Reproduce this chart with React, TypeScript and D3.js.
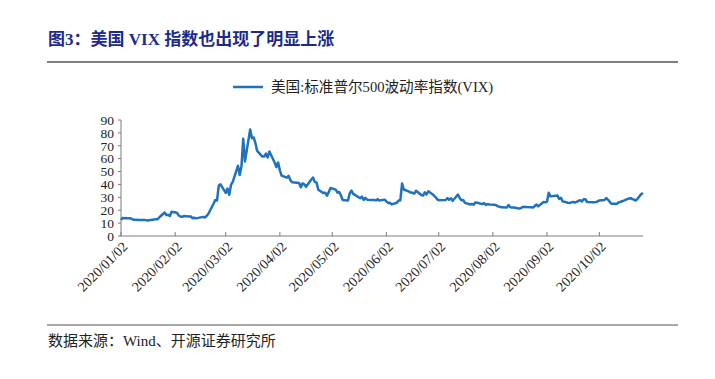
import React from "react";
import * as d3 from "d3";

const dates: string[] = [
  "2020-01-02","2020-01-03","2020-01-06","2020-01-07","2020-01-08","2020-01-09","2020-01-10","2020-01-13","2020-01-14","2020-01-15","2020-01-16","2020-01-17","2020-01-21","2020-01-22","2020-01-23","2020-01-24","2020-01-27","2020-01-28","2020-01-29","2020-01-30","2020-01-31",
  "2020-02-03","2020-02-04","2020-02-05","2020-02-06","2020-02-07","2020-02-10","2020-02-11","2020-02-12","2020-02-13","2020-02-14","2020-02-18","2020-02-19","2020-02-20","2020-02-21","2020-02-24","2020-02-25","2020-02-26","2020-02-27","2020-02-28",
  "2020-03-02","2020-03-03","2020-03-04","2020-03-05","2020-03-06","2020-03-09","2020-03-10","2020-03-11","2020-03-12","2020-03-13","2020-03-16","2020-03-17","2020-03-18","2020-03-19","2020-03-20","2020-03-23","2020-03-24","2020-03-25","2020-03-26","2020-03-27","2020-03-30","2020-03-31",
  "2020-04-01","2020-04-02","2020-04-03","2020-04-06","2020-04-07","2020-04-08","2020-04-09","2020-04-13","2020-04-14","2020-04-15","2020-04-16","2020-04-17","2020-04-20","2020-04-21","2020-04-22","2020-04-23","2020-04-24","2020-04-27","2020-04-28","2020-04-29","2020-04-30",
  "2020-05-01","2020-05-04","2020-05-05","2020-05-06","2020-05-07","2020-05-08","2020-05-11","2020-05-12","2020-05-13","2020-05-14","2020-05-15","2020-05-18","2020-05-19","2020-05-20","2020-05-21","2020-05-22","2020-05-26","2020-05-27","2020-05-28","2020-05-29",
  "2020-06-01","2020-06-02","2020-06-03","2020-06-04","2020-06-05","2020-06-08","2020-06-09","2020-06-10","2020-06-11","2020-06-12","2020-06-15","2020-06-16","2020-06-17","2020-06-18","2020-06-19","2020-06-22","2020-06-23","2020-06-24","2020-06-25","2020-06-26","2020-06-29","2020-06-30",
  "2020-07-01","2020-07-02","2020-07-06","2020-07-07","2020-07-08","2020-07-09","2020-07-10","2020-07-13","2020-07-14","2020-07-15","2020-07-16","2020-07-17","2020-07-20","2020-07-21","2020-07-22","2020-07-23","2020-07-24","2020-07-27","2020-07-28","2020-07-29","2020-07-30","2020-07-31",
  "2020-08-03","2020-08-04","2020-08-05","2020-08-06","2020-08-07","2020-08-10","2020-08-11","2020-08-12","2020-08-13","2020-08-14","2020-08-17","2020-08-18","2020-08-19","2020-08-20","2020-08-21","2020-08-24","2020-08-25","2020-08-26","2020-08-27","2020-08-28","2020-08-31",
  "2020-09-01","2020-09-02","2020-09-03","2020-09-04","2020-09-08","2020-09-09","2020-09-10","2020-09-11","2020-09-14","2020-09-15","2020-09-16","2020-09-17","2020-09-18","2020-09-21","2020-09-22","2020-09-23","2020-09-24","2020-09-25","2020-09-28","2020-09-29","2020-09-30",
  "2020-10-01","2020-10-02","2020-10-05","2020-10-06","2020-10-07","2020-10-08","2020-10-09","2020-10-12","2020-10-13","2020-10-14","2020-10-15","2020-10-16","2020-10-19","2020-10-20","2020-10-21","2020-10-22","2020-10-23","2020-10-26","2020-10-27",
];

const vix: number[] = [
  12.47,14.02,13.85,13.79,13.45,12.54,12.56,12.32,12.39,12.42,12.32,12.10,12.85,12.91,12.98,14.56,18.23,16.28,16.39,15.49,18.84,
  17.97,16.05,15.15,14.96,15.47,15.04,15.18,13.74,14.15,13.68,14.83,14.38,15.56,17.08,25.03,27.85,27.56,39.16,40.11,
  33.42,36.82,31.99,39.62,41.94,54.46,47.30,53.90,75.47,57.83,82.69,75.91,76.45,72.00,66.04,61.59,61.67,63.95,61.00,65.54,57.08,53.54,
  57.06,50.91,46.80,45.24,46.70,43.35,41.67,41.17,37.76,40.84,40.11,38.15,43.83,45.41,41.98,41.38,35.93,33.29,33.57,31.23,34.15,
  37.19,35.97,33.61,34.12,31.44,27.98,27.57,33.04,35.28,32.61,31.89,29.30,30.53,27.99,29.53,28.16,28.01,27.62,28.59,27.51,
  28.23,26.84,25.66,25.81,24.52,25.81,27.57,27.57,40.79,36.09,34.40,33.67,33.47,32.94,35.12,31.77,31.37,33.84,32.22,34.73,31.78,30.43,
  28.62,27.68,27.94,29.43,28.08,29.26,27.29,32.19,29.52,27.76,28.00,25.68,24.46,24.84,24.32,26.08,25.84,24.74,25.44,24.10,24.76,24.46,
  24.28,23.76,23.00,22.65,22.21,22.13,24.03,22.28,22.13,22.05,21.35,21.51,22.54,22.72,22.54,22.37,22.03,23.27,24.47,22.96,26.41,
  26.12,26.57,33.60,30.75,31.46,28.81,29.71,26.87,25.85,25.59,26.04,26.46,25.83,27.78,26.86,28.58,28.51,26.38,26.19,26.27,26.37,
  26.70,27.63,27.96,29.48,28.06,26.36,25.00,25.07,26.07,26.40,26.97,27.41,29.18,29.35,28.65,28.11,27.55,32.46,33.35,
];

const xTickLabels: string[] = [
  "2020/01/02","2020/02/02","2020/03/02","2020/04/02","2020/05/02",
  "2020/06/02","2020/07/02","2020/08/02","2020/09/02","2020/10/02",
];
const yTicks: number[] = [0, 10, 20, 30, 40, 50, 60, 70, 80, 90];

const title = "图3：美国 VIX 指数也出现了明显上涨";
const legendLabel = "美国:标准普尔500波动率指数(VIX)";
const source = "数据来源：Wind、开源证券研究所";

const parse = d3.timeParse("%Y-%m-%d");
const parseTick = d3.timeParse("%Y/%m/%d");

export default function App() {
  const W = 715, H = 379;
  const left = 121, right = 643, top = 120, bottom = 236;
  const blue = "#1f72bd";
  const axisColor = "#7a7a7a";
  const serif = "'Liberation Serif','Times New Roman','Noto Sans CJK SC',serif";

  const data = dates.map((d, i) => ({ date: parse(d) as Date, value: vix[i] }));
  const x = d3.scaleTime()
    .domain([data[0].date, data[data.length - 1].date])
    .range([left, right]);
  const y = d3.scaleLinear().domain([0, 90]).range([bottom, top]);
  const line = d3.line<{ date: Date; value: number }>()
    .x(d => x(d.date))
    .y(d => y(d.value));

  return (
    <svg width={W} height={H} style={{ position: "absolute", left: 0, top: 0, background: "#fff" }}>
      <rect x={0} y={0} width={W} height={H} fill="#fff" />
      <text x={48} y={45} fontSize={17} fontWeight="bold" fill="#1c2a8c"
        fontFamily="'Liberation Serif','Noto Sans CJK SC',sans-serif">{title}</text>
      <line x1={47} x2={678} y1={62} y2={62} stroke="#555" strokeWidth={1.5} />

      <line x1={233} x2={263} y1={87} y2={87} stroke={blue} strokeWidth={2.5} />
      <text x={271} y={92} fontSize={14.6} fill="#222" fontFamily={serif}>{legendLabel}</text>

      {/* y axis */}
      <line x1={left} x2={left} y1={bottom} y2={top} stroke={axisColor} strokeWidth={1} />
      {yTicks.map(t => (
        <g key={t}>
          <line x1={left - 3} x2={left} y1={y(t)} y2={y(t)} stroke={axisColor} />
          <text x={left - 7} y={y(t)} dy="0.35em" textAnchor="end" fontSize={13.5} fill="#222" fontFamily={serif}>{t}</text>
        </g>
      ))}

      {/* x axis */}
      <line x1={left} x2={right} y1={bottom} y2={bottom} stroke={axisColor} strokeWidth={1} />
      {xTickLabels.map(lbl => {
        const tx = x(parseTick(lbl) as Date);
        return (
          <g key={lbl}>
            <line x1={tx} x2={tx} y1={bottom} y2={bottom - 4} stroke={axisColor} />
            <text transform={`translate(${tx + 4},${bottom + 8}) rotate(-45)`} textAnchor="end" dy="0.35em"
              fontSize={14} fill="#222" fontFamily={serif}>{lbl}</text>
          </g>
        );
      })}

      <path d={line(data) || ""} fill="none" stroke={blue} strokeWidth={2.5} strokeLinejoin="round" />

      <line x1={47} x2={678} y1={325} y2={325} stroke="#555" strokeWidth={1.2} />
      <text x={48} y={346} fontSize={15} fill="#222" fontFamily={serif}>{source}</text>
    </svg>
  );
}
